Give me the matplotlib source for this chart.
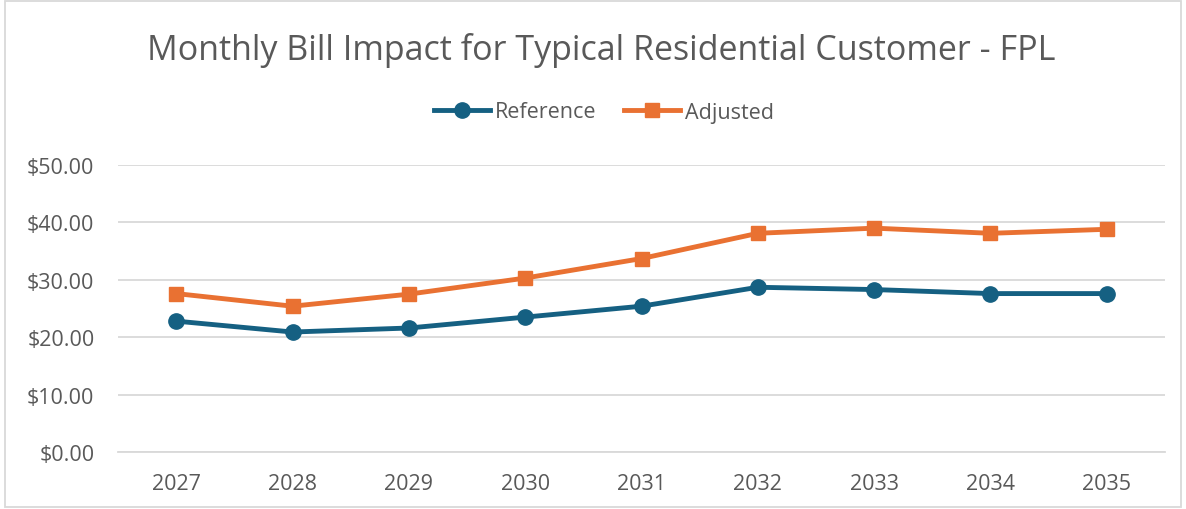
import matplotlib.pyplot as plt
from matplotlib.patches import Rectangle

plt.rcParams['font.family'] = ['Open Sans', 'DejaVu Sans']

years = ['2027', '2028', '2029', '2030', '2031', '2032', '2033', '2034', '2035']
reference = [22.8, 20.9, 21.6, 23.5, 25.4, 28.7, 28.3, 27.6, 27.6]
adjusted = [27.6, 25.4, 27.5, 30.3, 33.7, 38.1, 39.0, 38.1, 38.8]
yticks = [0, 10, 20, 30, 40, 50]

fig = plt.figure(figsize=(11.86, 5.10), dpi=100)
ax = fig.add_axes([118 / 1186, 1 - 453 / 510, 1047 / 1186, 287 / 510])

x = range(len(years))
ax.plot(x, reference, color='#156082', lw=3.5, marker='o', ms=11, label='Reference', zorder=3)
ax.plot(x, adjusted, color='#E97132', lw=3.5, marker='s', ms=10.5, label='Adjusted', zorder=3)

ax.set_xlim(-0.5, len(years) - 0.5)
ax.set_ylim(0, 50)
ax.set_xticks(list(x))
ax.set_xticklabels(years)
ax.set_yticks(yticks)
ax.set_yticklabels(['${:.2f}'.format(v) for v in yticks])
ax.tick_params(axis='both', length=0, labelsize=15.5, colors='#595959')
ax.tick_params(axis='x', pad=15)
ax.tick_params(axis='y', pad=17)
ax.grid(axis='y', color='#D9D9D9', lw=1.3)
ax.set_axisbelow(True)
for s in ['top', 'right', 'left']:
    ax.spines[s].set_visible(False)
ax.spines['bottom'].set_color('#D9D9D9')
ax.spines['bottom'].set_linewidth(1.3)

fig.text(601 / 1186, 1 - 50 / 510, 'Monthly Bill Impact for Typical Residential Customer - FPL',
         ha='center', va='center', fontsize=24.5, color='#595959')
fig.legend(loc='center', bbox_to_anchor=(604 / 1186, 1 - 113 / 510), ncol=2, frameon=False,
           fontsize=15.5, labelcolor='#595959', handlelength=2.6, columnspacing=1.3, handletextpad=0.2)

fig.add_artist(Rectangle((0.004, 0.004), 0.992, 0.992, transform=fig.transFigure,
                         fill=False, edgecolor='#D9D9D9', lw=1.3))

fig.savefig('out.png', dpi=100)
